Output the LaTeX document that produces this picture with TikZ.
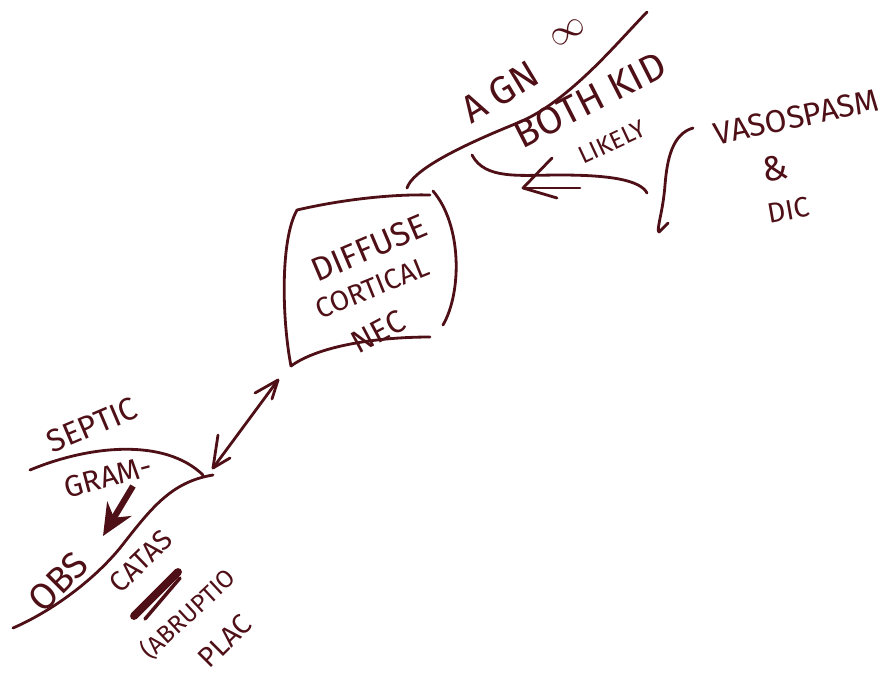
\documentclass[tikz,border=0pt]{standalone}
\usepackage{fontspec}
\setmainfont{Fira Sans}
\usetikzlibrary{arrows.meta}
\definecolor{ink}{RGB}{78,16,22}
\tikzset{
  pen/.style={ink, line width=1.6pt, line cap=round, line join=round},
  hand/.style={text=ink, inner sep=0pt, font=\fontsize{#1}{#1}\selectfont},
}
\begin{document}
\begin{tikzpicture}[x=0.02cm,y=-0.02cm]
	\useasboundingbox (0,0) rectangle (895,680);
	
	% box
	\coordinate (BoxTL) at (297,210);
	\coordinate (BoxBL) at (291,366);
	\draw[pen] (BoxTL) .. controls (340,200) and (390,194) .. (430,195);
	\draw[pen] (433,191) .. controls (462,225) and (462,292) .. (443,325);
	\draw[pen] (BoxTL) .. controls (280,240) and (282,320) .. (BoxBL);
	\draw[pen] (BoxBL) .. controls (320,345) and (380,337) .. (430,337);
	\node[hand=19, rotate=23] (diffuse) at (369,248) {DIFFUSE};
	\node[hand=16, rotate=22] (cortical) at (372,288) {CORTICAL};
	\node[hand=18, rotate=28] (nec) at (378,332) {NEC};
	
	% upper branch
	\coordinate (Up0) at (407,188);
	\coordinate (Up1) at (647,12);
	\draw[pen] (Up0) .. controls (412,172) and (450,150) .. (520,122) .. controls (570,100) and (615,45) .. (Up1);
	\node[hand=22, rotate=31] (agn) at (500,92) {A GN};
	\node[hand=20, rotate=31] (agnsup) at (568,32) {$\infty$};
	\node[hand=22, rotate=27] (bothkid) at (590,100) {BOTH KID};
	\node[hand=14, rotate=25] (likely) at (612,142) {LIKELY};
	
	% likely curve and arrow
	\coordinate (Lk0) at (472,155);
	\coordinate (Lk1) at (647,193);
	\coordinate (LkTip) at (523,188);
	\coordinate (LkTail) at (580,188);
	\draw[pen] (Lk0) .. controls (485,180) and (520,175) .. (560,175) .. controls (610,175) and (640,180) .. (Lk1);
	\draw[pen] (552,158) -- (LkTip) -- (557,198);
	\draw[pen] (LkTip) -- (LkTail);
	
	% brace
	\coordinate (Br0) at (693,128);
	\coordinate (Br1) at (668,223);
	\draw[pen] (Br0) .. controls (672,134) and (667,160) .. (665,185) .. controls (663,212) and (656,230) .. (659,232) -- (Br1);
	\node[hand=18, rotate=12] (vaso) at (796,117) {VASOSPASM};
	\node[hand=20, rotate=10] (amp) at (775,168) {\&};
	\node[hand=16, rotate=10] (dic) at (789,210) {DIC};
	
	% double arrow
	\coordinate (ArTop) at (278,380);
	\coordinate (ArBot) at (213,468);
	\draw[pen] (ArTop) -- (ArBot);
	\draw[pen] (255,393) -- (ArTop) -- (272,399);
	\draw[pen] (218,435) -- (ArBot) -- (230,458);
	
	% lower branch
	\coordinate (Lo0) at (30,470);
	\coordinate (Lo1) at (203,475);
	\coordinate (Lo2) at (213,475);
	\coordinate (Lo3) at (13,628);
	\draw[pen] (Lo0) .. controls (90,445) and (165,438) .. (Lo1);
	\draw[pen] (Lo2) .. controls (170,482) and (150,510) .. (120,548) .. controls (92,582) and (50,612) .. (Lo3);
	\node[hand=18, rotate=23] (septic) at (92,425) {SEPTIC};
	\node[hand=17, rotate=15] (gram) at (108,477) {GRAM-};
	\draw[ink, line width=3.5pt, -{Stealth[length=18pt,width=16pt]}] (133,486) -- (103,536);
	\node[hand=21, rotate=45] (obs) at (58,582) {OBS};
	\node[hand=16, rotate=44] (catas) at (141,561) {CATAS};
	\draw[ink, line width=4.5pt, line cap=round] (134,616) -- (178,572);
	\draw[ink, line width=2pt, line cap=round] (145,619) -- (180,578);
	\node[hand=14, rotate=43] (abrupt) at (188,614) {(ABRUPTIO};
	\node[hand=16, rotate=45] (plac) at (225,641) {PLAC};
\end{tikzpicture}
\end{document}
